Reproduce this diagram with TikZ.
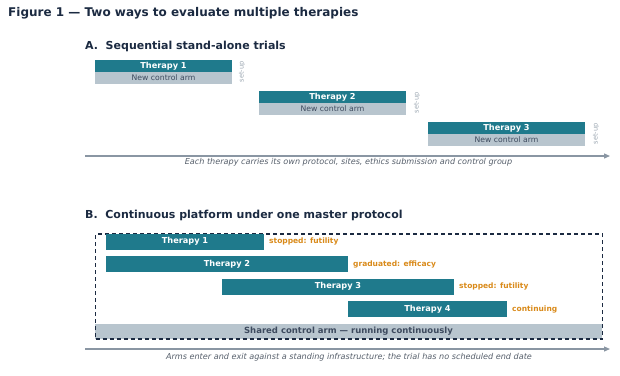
\documentclass[tikz,border=0pt]{standalone}
\usepackage{fontspec}
\setmainfont{DejaVu Sans}
\usetikzlibrary{arrows.meta}
\definecolor{navy}{HTML}{1B2A41}
\definecolor{teal}{HTML}{1F7A8C}
\definecolor{ctrl}{HTML}{B8C5CE}
\definecolor{orng}{HTML}{D98A1A}
\definecolor{capg}{HTML}{555E6A}
\definecolor{axg}{HTML}{8A96A3}
\definecolor{setg}{HTML}{9AA5B0}
\newcommand{\fs}[1]{\fontsize{#1}{#1}\selectfont}
\tikzset{
  bar/.style={fill=teal, text=white, font=\fs{8.2}\bfseries, inner sep=0pt, outer sep=0pt, anchor=north west},
  ctrlbar/.style={fill=ctrl, text=navy!85, font=\fs{7.7}, inner sep=0pt, outer sep=0pt, anchor=north west},
  setup/.style={text=setg, font=\fs{6.6}, rotate=90, inner sep=0pt},
  status/.style={text=orng, font=\fs{7.5}\bfseries, anchor=west, inner sep=0pt},
  heading/.style={text=navy, font=\fs{11}\bfseries, anchor=west, inner sep=0pt},
  caption/.style={text=capg, font=\fs{8.1}\itshape, inner sep=0pt},
  axis/.style={draw=axg, line width=1.2pt, -{Triangle[length=6pt,width=5pt]}},
}
\begin{document}
\begin{tikzpicture}[x=1pt,y=-1pt]
\useasboundingbox (0,0) rectangle (620,375);
\node[text=navy, font=\fs{12}\bfseries, anchor=west, inner sep=0pt] (title) at (8,13.5) {Figure 1 — Two ways to evaluate multiple therapies};
% Section A
\node[heading] (ha) at (85,46) {A.\ \ Sequential stand-alone trials};
\node[bar, minimum width=137pt, minimum height=12pt] (a1) at (95,60) {Therapy 1};
\node[ctrlbar, minimum width=137pt, minimum height=12pt] (c1) at (95,72) {New control arm};
\node[setup] (s1) at (242,72) {set-up};
\node[bar, minimum width=147pt, minimum height=12pt] (a2) at (259,91) {Therapy 2};
\node[ctrlbar, minimum width=147pt, minimum height=12pt] (c2) at (259,103) {New control arm};
\node[setup] (s2) at (417,103) {set-up};
\node[bar, minimum width=157pt, minimum height=12pt] (a3) at (428,122) {Therapy 3};
\node[ctrlbar, minimum width=157pt, minimum height=12pt] (c3) at (428,134) {New control arm};
\node[setup] (s3) at (596,134) {set-up};
\coordinate (axa0) at (85,156);
\coordinate (axa1) at (610,156);
\draw[axis] (axa0) -- (axa1);
\node[caption] (capa) at (348.5,162.5) {Each therapy carries its own protocol, sites, ethics submission and control group};
% Section B
\node[heading] (hb) at (85,215) {B.\ \ Continuous platform under one master protocol};
\node[ctrlbar, font=\fs{8.5}\bfseries, minimum width=507pt, minimum height=15pt] (sc) at (95,324) {Shared control arm — running continuously};
\node[draw=navy, line width=1.2pt, dash pattern=on 4pt off 3pt, inner sep=0pt, outer sep=0pt, anchor=north west, minimum width=507pt, minimum height=105pt] (box) at (95.5,234) {};
\node[bar, minimum width=158pt, minimum height=16pt] (b1) at (106,233.5) {Therapy 1};
\node[status] (l1) at ([xshift=5pt]b1.east) {stopped: futility};
\node[bar, minimum width=242pt, minimum height=16pt] (b2) at (106,256) {Therapy 2};
\node[status] (l2) at ([xshift=5pt]b2.east) {graduated: efficacy};
\node[bar, minimum width=232pt, minimum height=16pt] (b3) at (222,278.5) {Therapy 3};
\node[status] (l3) at ([xshift=5pt]b3.east) {stopped: futility};
\node[bar, minimum width=159pt, minimum height=16pt] (b4) at (348,301) {Therapy 4};
\node[status] (l4) at ([xshift=5pt]b4.east) {continuing};
\coordinate (axb0) at (85,349);
\coordinate (axb1) at (610,349);
\draw[axis] (axb0) -- (axb1);
\node[caption] (capb) at (349,357) {Arms enter and exit against a standing infrastructure; the trial has no scheduled end date};
\end{tikzpicture}
\end{document}
